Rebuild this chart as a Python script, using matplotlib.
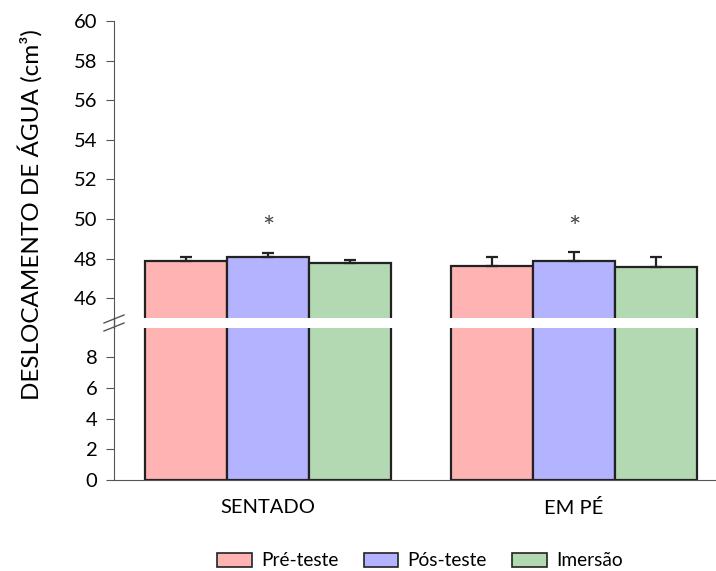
import matplotlib.pyplot as plt
from matplotlib.patches import Patch
from matplotlib.lines import Line2D

plt.rcParams['font.family'] = ['Lato', 'DejaVu Sans']

# data
groups = ['SENTADO', 'EM PÉ']
series = ['Pré-teste', 'Pós-teste', 'Imersão']
colors = ['#ffb3b3', '#b3b3ff', '#b3d9b3']
means = [[47.87, 47.63], [48.08, 47.87], [47.80, 47.58]]
errs = [[0.19, 0.43], [0.21, 0.44], [0.15, 0.48]]
star_y = 49.5

upper_ticks = [46, 48, 50, 52, 54, 56, 58, 60]
lower_ticks = [0, 2, 4, 6, 8]

W, H = 716, 571
fig = plt.figure(figsize=(W / 100, H / 100), dpi=100)
left = 114 / W
ax_top = fig.add_axes([left, 1 - 318 / H, 1 - left, (318 - 21) / H])
ax_bot = fig.add_axes([left, 1 - 480 / H, 1 - left, (480 - 328) / H])

bw = 0.268
xs = [0, 1]
axis_col = '#555555'
edge_col = '#222222'

for ax in (ax_top, ax_bot):
    for i, name in enumerate(series):
        pos = [x + (i - 1) * bw for x in xs]
        ax.bar(pos, means[i], width=bw, color=colors[i], edgecolor=edge_col,
               linewidth=1.6, zorder=2)
        ax.errorbar(pos, means[i], yerr=[[0, 0], errs[i]], fmt='none',
                    ecolor=edge_col, elinewidth=1.6, capsize=4, capthick=1.6,
                    zorder=3)
    ax.set_xlim(-0.503, 1.464)
    for s in ('top', 'right'):
        ax.spines[s].set_visible(False)
    ax.spines['left'].set_color(axis_col)
    ax.spines['bottom'].set_color(axis_col)
    ax.tick_params(axis='y', direction='out', length=6, color=axis_col,
                   labelsize=14.5, pad=6)

ax_top.set_ylim(45, 60)
ax_top.set_yticks(upper_ticks)
ax_top.spines['bottom'].set_visible(False)
ax_top.set_xticks([])

ax_bot.set_ylim(0, 9.9)
ax_bot.set_yticks(lower_ticks)
ax_bot.set_xticks(xs)
ax_bot.set_xticklabels(groups)
ax_bot.tick_params(axis='x', length=0, labelsize=14.5, pad=14)

for x in xs:
    ax_top.text(x, star_y, '*', ha='center', va='center', fontsize=21,
                color='#444444')

# continuous axis line through the gap and break marks
fig.add_artist(Line2D([left, left], [1 - 318 / H, 1 - 328 / H],
                      color=axis_col, lw=1.0))
for yy in (319, 327):
    fig.add_artist(Line2D([104 / W, 124 / W], [1 - (yy + 4) / H, 1 - (yy - 4) / H],
                          color=axis_col, lw=1.0))

fig.text(30 / W, 1 - 215 / H, 'DESLOCAMENTO DE ÁGUA (cm³)', rotation=90,
         ha='center', va='center', fontsize=17.5)

handles = [Patch(facecolor=c, edgecolor=edge_col, linewidth=1.2) for c in colors]
fig.legend(handles, series, loc='center', bbox_to_anchor=(420 / W, 1 - 561 / H),
           ncol=3, frameon=False, fontsize=13.8, handlelength=1.8,
           handleheight=0.7, handletextpad=0.5, columnspacing=1.3)

fig.savefig('out.png', dpi=100)
